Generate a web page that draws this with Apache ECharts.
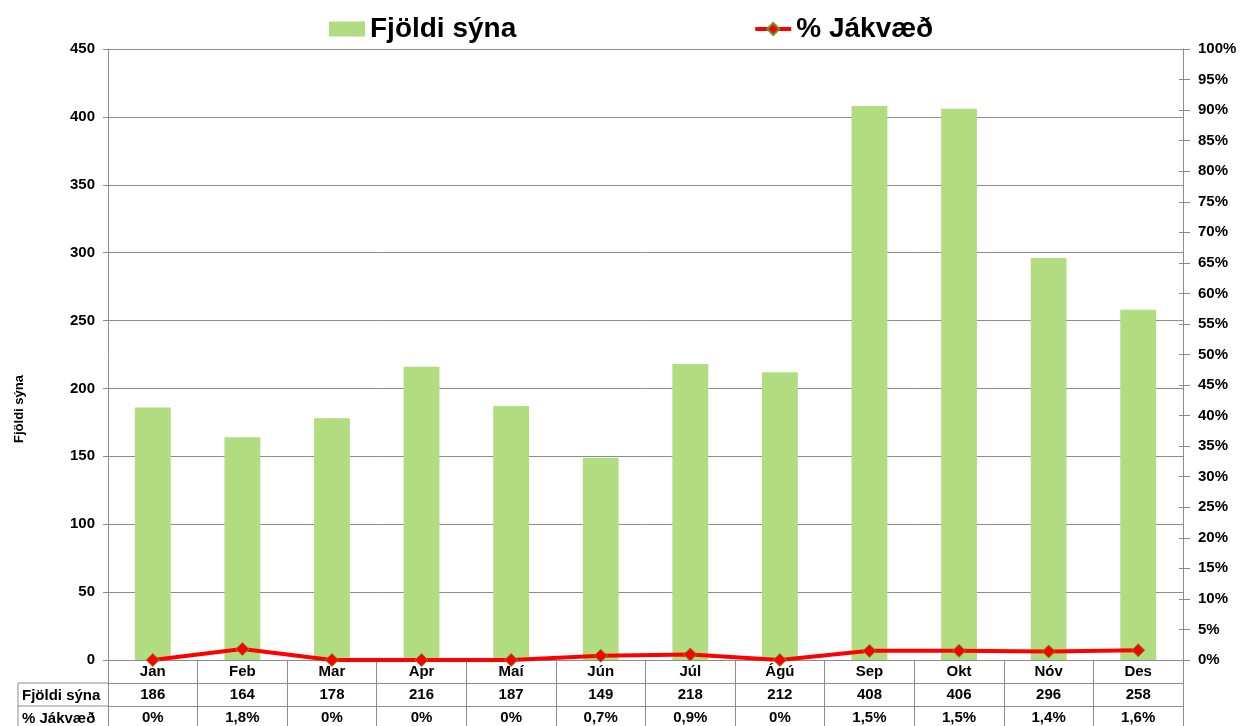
<!DOCTYPE html>
<html><head><meta charset="utf-8">
<script src="https://cdn.jsdelivr.net/npm/echarts@6/dist/echarts.min.js"></script>
<style>html,body{margin:0;padding:0;background:#fff}#c{width:1240px;height:726px}</style>
</head><body><div id="c"></div>
<script>
const months = ['Jan','Feb','Mar','Apr','Maí','Jún','Júl','Ágú','Sep','Okt','Nóv','Des'];
const samples = [186,164,178,216,187,149,218,212,408,406,296,258];
const positivePct = [0,1.8,0,0,0,0.7,0.9,0,1.5,1.5,1.4,1.6];
const leftTicks = {min:0, max:450, interval:50};
const rightTicks = {min:0, max:100, interval:5};
const barName = 'Fjöldi sýna';
const lineName = '% Jákvæð';

const pctText = positivePct.map(v => v === 0 ? '0%' : v.toFixed(1).replace('.', ',') + '%');
const FONT = "'Liberation Sans', Arial, sans-serif";
const GRID = {left:108, right:57, top:49, bottom:66};
const ROW = 23;
const lineCol = '#8c8c8c';
const bottomY = 726 - GRID.bottom;

function tableAxis(data, offset, name) {
  return {
    type:'category', data:data, position:'bottom', offset:offset, gridIndex:0,
    name: name || '', nameLocation:'start', nameGap:86,
    nameTextStyle:{fontFamily:FONT, fontWeight:'bold', fontSize:15, color:'#000', align:'left', verticalAlign:'top', padding:[5,0,0,0]},
    axisLine:{show:true, onZero:false, lineStyle:{color:lineCol, width:1}},
    axisTick:{show:true, length:ROW, lineStyle:{color:lineCol, width:1}},
    axisLabel:{interval:0, margin:4, fontFamily:FONT, fontWeight:'bold', fontSize:15, color:'#000'},
    splitLine:{show:false}
  };
}

const chart = echarts.init(document.getElementById('c'));
chart.setOption({
  animation:false,
  textStyle:{fontFamily:FONT},
  legend:{
    left:324, top:10, itemGap:237, itemWidth:36, itemHeight:15,
    textStyle:{fontFamily:FONT, fontWeight:'bold', fontSize:28, color:'#000'},
    lineStyle:{width:4},
    data:[{name:barName, icon:'rect'}, {name:lineName}]
  },
  grid:{left:GRID.left, right:GRID.right, top:GRID.top, bottom:GRID.bottom, containLabel:false},
  xAxis:[
    tableAxis(months, 0),
    tableAxis(samples.map(String), ROW, barName),
    tableAxis(pctText, ROW*2, lineName)
  ],
  yAxis:[
    {type:'value', min:leftTicks.min, max:leftTicks.max, interval:leftTicks.interval, position:'left',
     axisLine:{show:true, lineStyle:{color:lineCol}},
     axisTick:{show:true, length:5, lineStyle:{color:lineCol}},
     axisLabel:{margin:13, fontFamily:FONT, fontWeight:'bold', fontSize:15, color:'#000'},
     splitLine:{show:true, lineStyle:{color:lineCol, width:1}}},
    {type:'value', min:rightTicks.min, max:rightTicks.max, interval:rightTicks.interval, position:'right',
     axisLine:{show:true, lineStyle:{color:lineCol}},
     axisTick:{show:true, length:7, lineStyle:{color:lineCol}},
     axisLabel:{margin:15, fontFamily:FONT, fontWeight:'bold', fontSize:15, color:'#000', formatter:'{value}%'},
     splitLine:{show:false}},
    {type:'value', min:rightTicks.min, max:rightTicks.max, interval:rightTicks.interval, position:'right',
     axisLine:{show:false},
     axisTick:{show:true, inside:true, length:4, lineStyle:{color:lineCol}},
     axisLabel:{show:false}, splitLine:{show:false}}
  ],
  series:[
    {name:barName, type:'bar', data:samples, xAxisIndex:0, yAxisIndex:0, barWidth:'40%',
     itemStyle:{color:'#b1dc80'}},
    {name:lineName, type:'line', data:positivePct, xAxisIndex:0, yAxisIndex:1,
     symbol:'diamond', symbolSize:13, showSymbol:true,
     lineStyle:{color:'#ff0000', width:4},
     itemStyle:{color:'#ff0000', borderColor:'#6f8f2f', borderWidth:1}, z:5}
  ],
  graphic:[
    {type:'line', shape:{x1:18, y1:bottomY+ROW, x2:GRID.left, y2:bottomY+ROW}, style:{stroke:lineCol, lineWidth:1}},
    {type:'line', shape:{x1:18, y1:bottomY+ROW*2, x2:GRID.left, y2:bottomY+ROW*2}, style:{stroke:lineCol, lineWidth:1}},
    {type:'line', shape:{x1:18, y1:bottomY+ROW, x2:18, y2:726}, style:{stroke:lineCol, lineWidth:1}},
    {type:'text', x:19, y:409, rotation:Math.PI/2,
     style:{text:barName, textAlign:'center', textVerticalAlign:'middle', font:"bold 13px 'Liberation Sans', Arial, sans-serif", fill:'#000'}}
  ]
});
</script></body></html>
